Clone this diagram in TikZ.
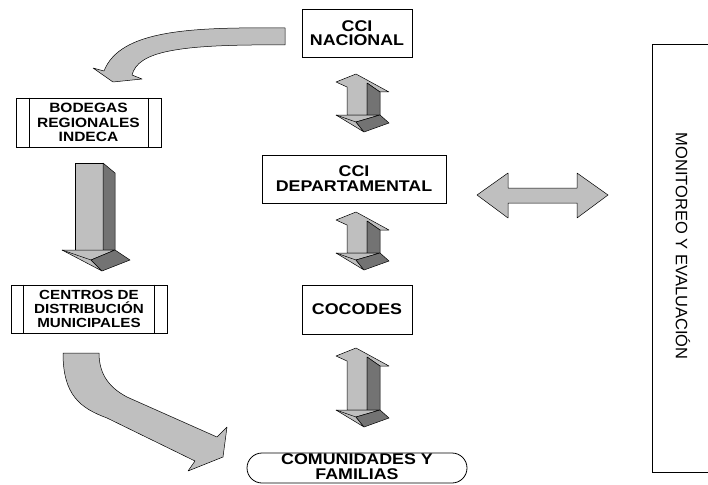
\documentclass[tikz,border=0pt]{standalone}
\usepackage{fontspec}
\newfontfamily\lab[FakeStretch=1.15]{Liberation Sans}
\newfontfamily\labr{Liberation Sans}
\tikzset{
  lightf/.style={fill=black!25, draw=black, line width=0.5pt, line join=round},
  darkf/.style={fill=black!55, draw=black, line width=0.5pt, line join=round},
  boxn/.style={draw=black, fill=white, line width=0.8pt, inner sep=0pt, align=center},
}
\newcommand\dblarrow[3]{%
  \begin{scope}[shift={(#1,#2)}]
    \filldraw[lightf] (0,8) -- (20,0) -- (53,18) -- (44,18) -- (31,9) -- (31,#3) -- (11,#3) -- (11,13) -- cycle;
    \filldraw[darkf] (31,9) -- (44,18) -- (44,#3) -- (31,#3) -- cycle;
    \filldraw[lightf] (0,#3) -- (44,#3) -- (20,{#3+7}) -- (28,{#3+17}) -- cycle;
    \filldraw[darkf] (20,{#3+7}) -- (44,#3) -- (53,{#3+8}) -- (28,{#3+17}) -- cycle;
    \draw[line width=0.5pt] (0,#3) -- (20,{#3+7});
  \end{scope}}
\begin{document}
\begin{tikzpicture}[x=1pt,y=-1pt]
\useasboundingbox (0,0) rectangle (708,484);

% boxes
\node[boxn, minimum width=110pt, minimum height=48pt, font=\lab\bfseries\fontsize{15.5}{14.3}\selectfont] (nac) at (357,33) {CCI\\NACIONAL};
\node[boxn, minimum width=184pt, minimum height=48pt, font=\lab\bfseries\fontsize{15.5}{15}\selectfont] (dep) at (354,179) {CCI\\DEPARTAMENTAL};
\node[boxn, minimum width=110pt, minimum height=49pt, font=\lab\bfseries\fontsize{15.5}{15}\selectfont] (coc) at (357,309.5) {COCODES};
\node[boxn, minimum width=145pt, minimum height=49pt, font=\lab\bfseries\fontsize{13.5}{14.3}\selectfont] (bod) at (88.5,122.5) {BODEGAS\\REGIONALES\\INDECA};
\draw[line width=0.8pt] ([xshift=14pt]bod.north west) -- ([xshift=14pt]bod.south west)
  ([xshift=-13pt]bod.north east) -- ([xshift=-13pt]bod.south east);
\node[boxn, minimum width=156pt, minimum height=48pt, font=\lab\bfseries\fontsize{13.2}{14}\selectfont] (cen) at (89,309) {CENTROS DE\\DISTRIBUCIÓN\\MUNICIPALES};
\draw[line width=0.8pt] ([xshift=13pt]cen.north west) -- ([xshift=13pt]cen.south west)
  ([xshift=-13pt]cen.north east) -- ([xshift=-13pt]cen.south east);
\node[boxn, minimum width=220pt, minimum height=30pt, rounded corners=15pt] (com) at (357,468) {};
\node[inner sep=0pt, align=center, font=\lab\bfseries\fontsize{15.5}{15.5}\selectfont] (comt) at (357,466.5) {COMUNIDADES Y\\FAMILIAS};

% monitoring box
\draw[line width=0.8pt] (708,44) -- (652,44) -- (652,472) -- (708,472);
\node[rotate=-90, inner sep=0pt, font=\labr\fontsize{16.5}{18}\selectfont] (mon) at (683,246) {MONITOREO Y EVALUACIÓN};

% curved arrows
\filldraw[lightf] (285,28) .. controls (190,27) and (120,30) .. (104,71) -- (93,68) -- (113,82) -- (142,79) -- (132,75) .. controls (138,52) and (175,44) .. (285,45) -- cycle;
\filldraw[lightf] (63,353) .. controls (63,395) and (80,408) .. (107,418) -- (195,461) -- (188,471) -- (223,457) -- (227,427) -- (217,437) -- (127,397) .. controls (110,388) and (99,375) .. (99,353) -- cycle;

% big down arrow
\filldraw[lightf] (75,163) -- (103,163) -- (103,250) -- (75,250) -- cycle;
\filldraw[darkf] (103,163) -- (115,173) -- (115,250) -- (103,250) -- cycle;
\filldraw[lightf] (62,250) -- (115,250) -- (91,260) -- (102,271) -- cycle;
\filldraw[darkf] (91,260) -- (115,250) -- (130,260) -- (102,271) -- cycle;
\draw[line width=0.5pt] (62,250) -- (91,260);

% double 3D arrows
\dblarrow{336}{74}{41}
\dblarrow{336}{212}{41}
\dblarrow{336}{348}{62}

% horizontal double arrow
\filldraw[lightf] (477,195) -- (508,173) -- (508,188) -- (577,188) -- (577,173) -- (608,195) -- (577,218) -- (577,203) -- (508,203) -- (508,218) -- cycle;
\end{tikzpicture}
\end{document}
